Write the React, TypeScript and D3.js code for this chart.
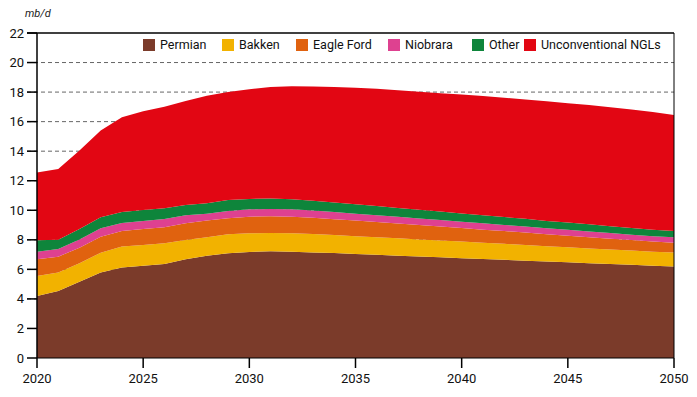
import * as d3 from "d3";

const W = 697;
const H = 397;
const margin = { top: 33, right: 23, bottom: 39, left: 37 };

const years = d3.range(2020, 2051);

const permian = [4.2, 4.54, 5.17, 5.78, 6.12, 6.25, 6.36, 6.68, 6.93, 7.09, 7.18, 7.22, 7.2, 7.15,
  7.1, 7.04, 6.99, 6.93, 6.87, 6.82, 6.76, 6.7, 6.65, 6.59, 6.53, 6.48, 6.42, 6.36, 6.31, 6.25, 6.2];
const bakken = [1.35, 1.24, 1.24, 1.35, 1.42, 1.4, 1.4, 1.31, 1.24, 1.28, 1.26, 1.24, 1.24, 1.25,
  1.23, 1.21, 1.19, 1.17, 1.16, 1.14, 1.12, 1.1, 1.08, 1.06, 1.04, 1.02, 1.0, 0.99, 0.97, 0.95, 0.94];
const eagleFord = [1.13, 1.08, 1.06, 1.07, 1.06, 1.08, 1.09, 1.13, 1.13, 1.09, 1.13, 1.13, 1.13, 1.1,
  1.07, 1.05, 1.02, 1.0, 0.97, 0.94, 0.92, 0.89, 0.86, 0.84, 0.81, 0.78, 0.76, 0.73, 0.7, 0.68, 0.67];
const niobrara = [0.52, 0.52, 0.56, 0.58, 0.54, 0.54, 0.56, 0.54, 0.47, 0.49, 0.5, 0.5, 0.5, 0.49,
  0.48, 0.47, 0.47, 0.46, 0.45, 0.44, 0.43, 0.43, 0.42, 0.41, 0.4, 0.4, 0.39, 0.38, 0.37, 0.37, 0.36];
const other = [0.77, 0.63, 0.7, 0.74, 0.74, 0.75, 0.72, 0.7, 0.7, 0.75, 0.7, 0.7, 0.67, 0.66,
  0.65, 0.63, 0.62, 0.6, 0.59, 0.58, 0.56, 0.55, 0.53, 0.52, 0.5, 0.49, 0.48, 0.46, 0.45, 0.44, 0.43];
const ngls = [4.58, 4.79, 5.32, 5.88, 6.42, 6.68, 6.87, 7.04, 7.28, 7.3, 7.43, 7.56, 7.66, 7.73,
  7.81, 7.9, 7.93, 7.97, 7.99, 8.01, 8.04, 8.06, 8.08, 8.08, 8.1, 8.08, 8.07, 8.06, 8.03, 7.96, 7.85];

const seriesNames = ["Permian", "Bakken", "Eagle Ford", "Niobrara", "Other", "Unconventional NGLs"];
const seriesColors = ["#7b3b2a", "#f2b200", "#e0620f", "#de4190", "#0e853b", "#e20613"];
const yTicks = d3.range(0, 23, 2);
const xTicks = [2020, 2025, 2030, 2035, 2040, 2045, 2050];

const font = "Roboto, 'DejaVu Sans', sans-serif";

export default function App() {
  const allValues = [permian, bakken, eagleFord, niobrara, other, ngls];
  const rows = years.map((yr, i) => {
    const r: Record<string, number> = { year: yr };
    seriesNames.forEach((n, k) => (r[n] = allValues[k][i]));
    return r;
  });

  const x = d3.scaleLinear().domain([2020, 2050]).range([margin.left, W - margin.right]);
  const y = d3.scaleLinear().domain([0, 22]).range([H - margin.bottom, margin.top]);

  const stacked = d3.stack<Record<string, number>>().keys(seriesNames)(rows);
  const area = d3
    .area<d3.SeriesPoint<Record<string, number>>>()
    .x((d) => x(d.data.year))
    .y0((d) => y(d[0]))
    .y1((d) => y(d[1]));

  const x0 = margin.left;
  const x1 = W - margin.right;

  // legend positions (left edge of each swatch)
  const legendX = [143, 222, 296, 388, 472, 524];

  return (
    <svg width={W} height={H} style={{ position: "absolute", left: 0, top: 0 }} fontFamily={font}>
      <text x={25} y={17} fontSize={11} fontStyle="italic" fill="#222">mb/d</text>

      {/* gridlines */}
      {yTicks.filter((t) => t > 0 && t < 22).map((t) => (
        <line key={t} x1={27} x2={x1} y1={y(t)} y2={y(t)} stroke="#666" strokeWidth={1} strokeDasharray="4,3" />
      ))}

      {stacked.map((s, i) => (
        <path key={s.key} d={area(s) || ""} fill={seriesColors[i]} />
      ))}

      {/* frame */}
      <line x1={27} x2={x1} y1={y(22)} y2={y(22)} stroke="#000" strokeWidth={1.5} />
      <line x1={x1} x2={x1} y1={y(22)} y2={y(0)} stroke="#000" strokeWidth={1} />
      <line x1={x0} x2={x0} y1={y(22)} y2={y(0)} stroke="#000" strokeWidth={1.5} />
      <line x1={x0} x2={x1} y1={y(0)} y2={y(0)} stroke="#000" strokeWidth={1} />

      {/* y axis */}
      {yTicks.map((t) => (
        <g key={t}>
          <line x1={27} x2={x0} y1={y(t)} y2={y(t)} stroke="#000" strokeWidth={1.5} />
          <text x={24} y={y(t)} dy="0.35em" textAnchor="end" fontSize={13} fill="#111">{t}</text>
        </g>
      ))}

      {/* x axis */}
      {xTicks.map((t) => (
        <g key={t}>
          <line x1={x(t)} x2={x(t)} y1={y(0)} y2={y(0) + 10} stroke="#000" strokeWidth={1.5} />
          <text x={x(t)} y={y(0) + 25} textAnchor="middle" fontSize={13} fill="#111">{t}</text>
        </g>
      ))}

      {/* legend */}
      {seriesNames.map((n, i) => (
        <g key={n}>
          <rect x={legendX[i]} y={39} width={12} height={12} fill={seriesColors[i]} />
          <text x={legendX[i] + 17} y={45} dy="0.35em" fontSize={12.5} fill="#111">{n}</text>
        </g>
      ))}
    </svg>
  );
}
